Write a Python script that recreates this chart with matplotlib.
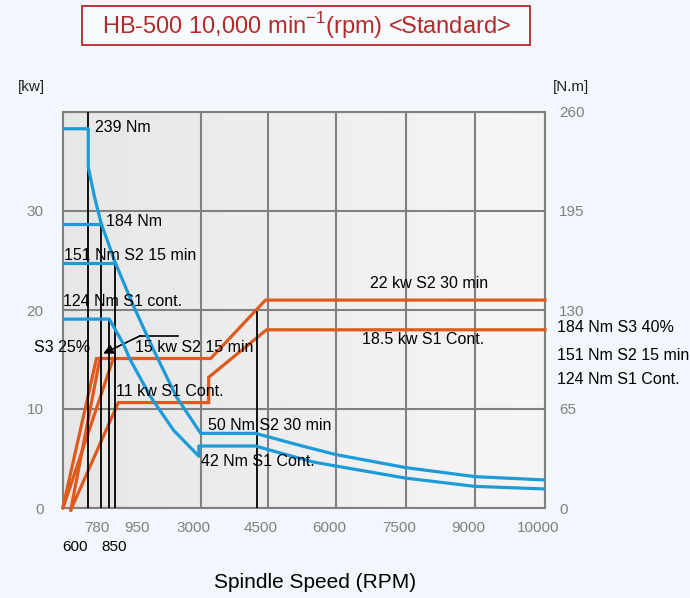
import matplotlib
matplotlib.use("Agg")
import matplotlib.pyplot as plt
import matplotlib.transforms as mtransforms
from matplotlib.colors import LinearSegmentedColormap
from matplotlib.patches import Rectangle
import numpy as np

plt.rcParams['font.family'] = ['Liberation Sans', 'DejaVu Sans']

# speed axis is not linear: 0-3000 takes two grid cells, the rest one each
rpm_knots = [0, 3000, 4500, 6000, 7500, 9000, 10000]
pos_knots = [0, 2, 2.97, 3.97, 4.98, 5.98, 7]

# torque curves (rpm, N.m)
tq_a_rpm = [0, 550, 550, 680, 830, 1140, 1530, 1970, 2470, 3000, 4230, 4780, 5220, 6000, 7500, 9000, 10000]
tq_a_nm = [249, 249, 224, 205, 187, 161, 133, 104, 73, 49, 49, 44.6, 41, 35, 26.5, 20.6, 18.4]
tq_b_rpm = [0, 1010, 1310, 1470, 1910, 2410, 2960, 2960, 4230, 4780, 5500, 6000, 7500, 9000, 10000]
tq_b_nm = [124, 124, 108, 97, 73, 51, 34, 40.7, 40.7, 36.1, 30.2, 27.5, 19.6, 14.2, 12.5]
stub_rpm = [830, 1140]
stub_nm = [186.5, 160.9]

# power curves (rpm, kW)
pw1_rpm = [0, 729, 3224, 4455, 10000]
pw1_kw = [0.1, 15.1, 15.1, 21.0, 21.0]
pw2_rpm = [169, 804]
pw2_kw = [-0.2, 15.1]
pw3_rpm = [0, 1095]
pw3_kw = [0.0, 15.1]
pw4_rpm = [169, 1205, 3179, 3179, 4478, 10000]
pw4_kw = [-0.2, 10.65, 10.65, 13.2, 18.0, 18.0]

# black marker lines (rpm, top in N.m)
mark_rpm = [550, 830, 1010, 1140, 4254]
mark_top = [260, 186.5, 124, 160.9, 129.4]

# pointer to the S3 25% line (rpm, kW)
ptr_rpm = [2497, 1686, 876]
ptr_kw = [17.4, 17.4, 15.6]

grid_rpm = [3000, 4500, 6000, 7500, 9000, 10000]
kw_ticks = [0, 10, 20, 30, 40]
kw_labels = ['0', '10', '20', '30', '']
nm_ticks = [0, 65, 130, 195, 260]

BLUE = '#1c9bd8'
ORANGE = '#e0591d'
GRAY = '#808080'
RED = '#b32a2a'


def fwd(x):
    return np.interp(x, rpm_knots, pos_knots)


def inv(p):
    return np.interp(p, pos_knots, rpm_knots)


fig = plt.figure(figsize=(6.9, 5.98), dpi=100)
fig.patch.set_facecolor('#f1f7fc')
ax = fig.add_axes([63 / 690, 1 - 508 / 598, 482 / 690, 396 / 598])
ax.set_xscale('function', functions=(fwd, inv))

cmap = LinearSegmentedColormap.from_list('bg', ['#e7e7e7', '#f6f6f6'])
ax.imshow(np.linspace(0, 1, 200).reshape(1, -1), extent=[0, 1, 0, 1],
          transform=ax.transAxes, cmap=cmap, aspect='auto', zorder=0)

ax.set_xlim(0, 10000)
ax.set_ylim(0, 40)
ax.set_xticks(grid_rpm)
ax.set_xticklabels([])
ax.set_yticks(kw_ticks)
ax.set_yticklabels(kw_labels)
ax.grid(True, color=GRAY, lw=1.5, zorder=1)
ax.set_axisbelow(True)
ax.tick_params(axis='both', length=0, labelsize=11, labelcolor=GRAY)
ax.tick_params(axis='y', pad=14)
for s in ax.spines.values():
    s.set_color(GRAY)
    s.set_linewidth(1.5)

for xs, ys in [(pw1_rpm, pw1_kw), (pw2_rpm, pw2_kw), (pw3_rpm, pw3_kw), (pw4_rpm, pw4_kw)]:
    ax.plot(xs, ys, color=ORANGE, lw=2.3, clip_on=False, zorder=3,
            solid_joinstyle='miter')

ax2 = ax.twinx()
ax2.set_ylim(0, 260)
ax2.set_yticks(nm_ticks)
ax2.tick_params(axis='y', length=0, labelsize=11, labelcolor=GRAY, pad=10)
for s in ax2.spines.values():
    s.set_visible(False)

ax2.vlines(mark_rpm, 0, mark_top, color='black', lw=1.3, zorder=2)
ax2.plot(tq_a_rpm, tq_a_nm, color=BLUE, lw=2.3, zorder=4)
ax2.plot(tq_b_rpm, tq_b_nm, color=BLUE, lw=2.3, zorder=4)
for r, t in zip(stub_rpm, stub_nm):
    ax2.plot([0, r], [t, t], color=BLUE, lw=2.3, zorder=4)

# pointer: straight part plus arrow head, placed through the axes scale
ax.plot(ptr_rpm[:2], ptr_kw[:2], color='black', lw=1.2, zorder=5)
pts = ax.transData.transform(np.column_stack([ptr_rpm, ptr_kw]))
ax.annotate('', xy=tuple(pts[2]), xytext=tuple(pts[1]),
            xycoords='figure pixels', textcoords='figure pixels',
            arrowprops=dict(arrowstyle='-|>', color='black', lw=1.2,
                            mutation_scale=14, shrinkA=0, shrinkB=0), zorder=5)

# speed labels, slightly left of the grid lines
off = mtransforms.ScaledTranslation(-7 / 100, 0, fig.dpi_scale_trans)
xtrans = mtransforms.blended_transform_factory(ax.transData, fig.transFigure) + off
for r in grid_rpm:
    fig.text(r, 1 - 528 / 598, str(r), fontsize=11, color=GRAY,
             ha='center', va='center', transform=xtrans)


def ptext(px, py, s, **kw):
    kw.setdefault('fontsize', 11.5)
    kw.setdefault('va', 'center')
    kw.setdefault('ha', 'left')
    fig.text(px / 690, 1 - py / 598, s, **kw)


ptext(97, 528, '780', color=GRAY, ha='center', fontsize=11)
ptext(137, 528, '950', color=GRAY, ha='center', fontsize=11)
ptext(75, 547, '600', ha='center', fontsize=11)
ptext(114, 547, '850', ha='center', fontsize=11)

ptext(95, 127, '239 Nm')
ptext(106, 222, '184 Nm')
ptext(64, 255, '151 Nm S2 15 min')
ptext(63, 302, '124 Nm S1 cont.')
ptext(34, 348, 'S3 25%')
ptext(135, 348, '15 kw S2 15 min')
ptext(116, 392, '11 kw S1 Cont.')
ptext(208, 426, '50 Nm S2 30 min')
ptext(201, 462, '42 Nm S1 Cont.')
ptext(429, 284, '22 kw S2 30 min', ha='center')
ptext(423, 339, '18.5 kw S1 Cont.', ha='center')
ptext(557, 327, '184 Nm S3 40%')
ptext(557, 355, '151 Nm S2 15 min')
ptext(557, 379, '124 Nm S1 Cont.')

ptext(31, 87, '[kw]', ha='center', fontsize=11, color='#222222')
ptext(571, 87, '[N.m]', ha='center', fontsize=11, color='#222222')
ptext(315, 582, 'Spindle Speed (RPM)', ha='center', fontsize=15)

fig.add_artist(Rectangle((82 / 690, 1 - 45 / 598), 448 / 690, 39 / 598,
                         transform=fig.transFigure, facecolor='#f7fbfe',
                         edgecolor=RED, lw=1.3))
ptext(306, 26, r'HB-500 10,000 min$^{\mathregular{-1}}$(rpm) <Standard>',
      ha='center', fontsize=17, color=RED)

fig.savefig('out.png', dpi=100, facecolor=fig.get_facecolor())
